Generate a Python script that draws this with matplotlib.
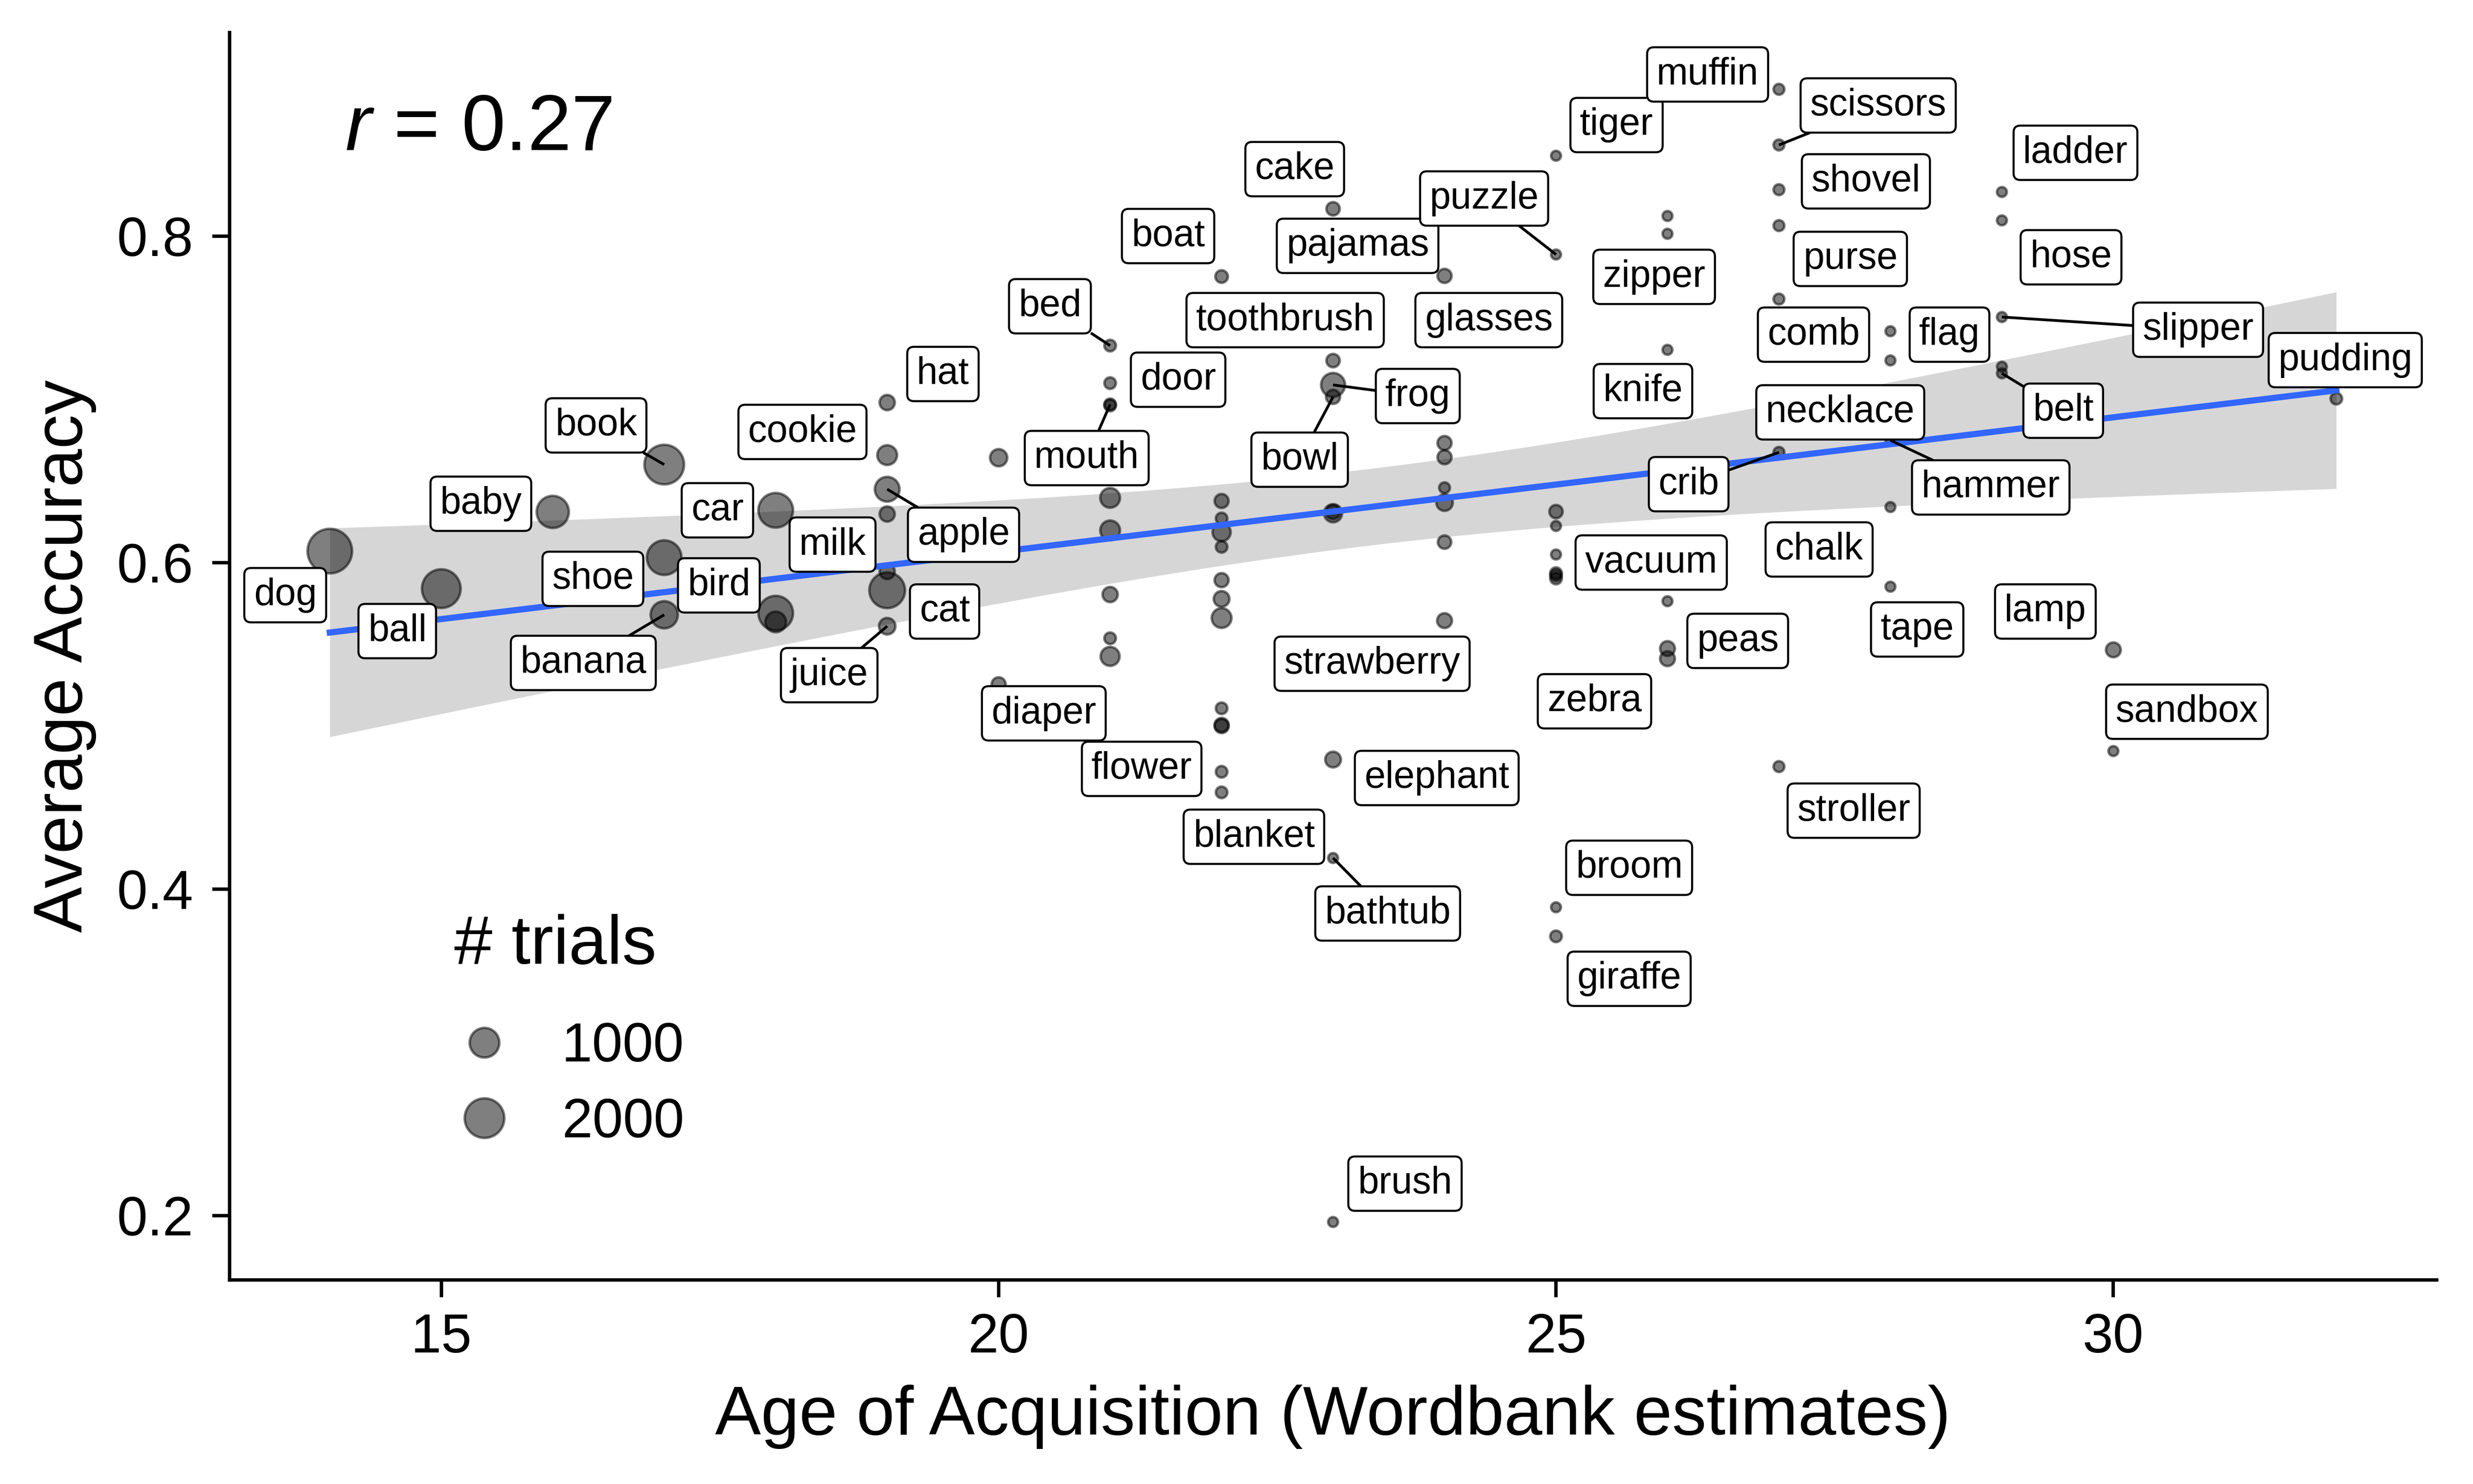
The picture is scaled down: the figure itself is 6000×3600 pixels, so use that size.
import numpy as np
import matplotlib
matplotlib.use("Agg")
import matplotlib.pyplot as plt
from matplotlib.lines import Line2D

plt.rcParams['font.family'] = ['Liberation Sans', 'DejaVu Sans']
plt.rcParams['mathtext.fontset'] = 'custom'
plt.rcParams['mathtext.it'] = 'Liberation Sans:italic'
plt.rcParams['mathtext.rm'] = 'Liberation Sans'

# one entry per word: age of acquisition (months), average accuracy, number of trials
aoa = [14, 15, 16, 17, 17, 17, 18, 18, 18,
       19, 19, 19, 19, 19, 19, 19, 20, 20,
       21, 21, 21, 21, 21, 21, 21, 21, 21,
       22, 22, 22, 22, 22, 22, 22, 22, 22, 22, 22, 22, 22,
       23, 23, 23, 23, 23, 23, 23, 23, 23,
       24, 24, 24, 24, 24, 24, 24,
       25, 25, 25, 25, 25, 25, 25, 25, 25, 25,
       26, 26, 26, 26, 26, 26,
       27, 27, 27, 27, 27, 27, 27,
       28, 28, 28, 28, 28,
       29, 29, 29, 29, 29,
       30, 30, 32]
accuracy = [0.607, 0.584, 0.631, 0.660, 0.603, 0.568, 0.632, 0.569, 0.5636,
            0.698, 0.6658, 0.6449, 0.6297, 0.5945, 0.583, 0.561, 0.6642, 0.5254,
            0.7329, 0.7099, 0.6969, 0.6962, 0.6396, 0.6197, 0.5804, 0.5536, 0.5425,
            0.7752, 0.6377, 0.627, 0.6186, 0.6096, 0.5892, 0.5777, 0.566, 0.5107,
            0.5005, 0.4998, 0.4718, 0.4592,
            0.8167, 0.7237, 0.7088, 0.7015, 0.6302, 0.6310, 0.4793, 0.419, 0.196,
            0.7756, 0.6732, 0.6645, 0.6458, 0.6367, 0.6125, 0.5644,
            0.8492, 0.7887, 0.6312, 0.6224, 0.6049, 0.5935, 0.5922, 0.5902, 0.3888, 0.371,
            0.8123, 0.8014, 0.7303, 0.5763, 0.5473, 0.5411,
            0.8899, 0.8558, 0.8284, 0.8064, 0.7614, 0.6675, 0.475,
            0.7417, 0.7238, 0.6749, 0.634, 0.5852,
            0.827, 0.8096, 0.7504, 0.72, 0.7159,
            0.5465, 0.4845, 0.7004]
trials = [2650, 1900, 1214, 2000, 1450, 815, 1450, 1450, 440,
          258, 400, 650, 258, 258, 1560, 290, 310, 236,
          206, 206, 206, 206, 400, 400, 258, 206, 370,
          215, 236, 206, 341, 206, 236, 270, 400, 206, 236, 236, 206, 206,
          225, 225, 604, 236, 341, 236, 270, 200, 200,
          236, 236, 236, 202, 290, 225, 250,
          200, 200, 225, 200, 200, 206, 206, 206, 200, 206,
          200, 200, 200, 200, 250, 250,
          202, 202, 202, 202, 202, 202, 202,
          200, 200, 200, 200, 200,
          200, 200, 200, 200, 200,
          250, 200, 206]

label_words = ['dog', 'ball', 'baby', 'book', 'shoe', 'banana', 'car', 'bird', 'milk',
               'cookie', 'juice', 'apple', 'cat', 'hat', 'bed', 'diaper', 'mouth', 'door',
               'boat', 'flower', 'toothbrush', 'cake', 'pajamas', 'blanket', 'strawberry',
               'bowl', 'frog', 'elephant', 'bathtub', 'brush', 'puzzle', 'glasses', 'tiger',
               'zebra', 'vacuum', 'broom', 'giraffe', 'zipper', 'knife', 'crib', 'peas',
               'muffin', 'scissors', 'shovel', 'purse', 'comb', 'necklace', 'chalk',
               'stroller', 'flag', 'hammer', 'tape', 'ladder', 'hose', 'slipper', 'belt',
               'lamp', 'sandbox', 'pudding']
label_point = [0, 1, 2, 3, 4, 5, 6, 7, 13,
               10, 15, 11, 14, 9, 18, 17, 20, 19,
               27, 38, 41, 40, 49, 39, 55,
               43, 42, 46, 47, 48, 57, 50, 56,
               63, 60, 64, 65, 67, 68, 77, 70,
               72, 73, 74, 75, 76, 80, 82,
               78, 79, 81, 83, 84, 85, 86, 88,
               89, 90, 91]

# where the repelled labels ended up (box centres, data units)
label_pos = [(13.60, 0.580), (14.605, 0.558), (15.355, 0.636), (16.388, 0.684),
             (16.36, 0.590), (16.274, 0.5385), (17.477, 0.632), (17.49, 0.586),
             (18.51, 0.611), (18.24, 0.680), (18.48, 0.531), (19.685, 0.617),
             (19.515, 0.570), (19.50, 0.7155), (20.46, 0.757), (20.405, 0.5076),
             (20.79, 0.664), (21.61, 0.712), (21.52, 0.800), (21.283, 0.4736),
             (22.57, 0.7485), (22.656, 0.841), (23.22, 0.794), (22.29, 0.432),
             (23.35, 0.538), (22.70, 0.663), (23.76, 0.702), (23.93, 0.468),
             (23.49, 0.385), (23.645, 0.2195), (24.355, 0.823), (24.397, 0.7485),
             (25.543, 0.868), (25.345, 0.515), (25.854, 0.600), (25.656, 0.413),
             (25.656, 0.345), (25.88, 0.775), (25.78, 0.705), (26.19, 0.648),
             (26.63, 0.552), (26.36, 0.899), (27.89, 0.880), (27.78, 0.8335),
             (27.64, 0.786), (27.31, 0.7396), (27.55, 0.692), (27.36, 0.608),
             (27.67, 0.448), (28.53, 0.7396), (28.90, 0.646), (28.24, 0.559),
             (29.66, 0.851), (29.62, 0.787), (30.76, 0.7426), (29.55, 0.693),
             (29.39, 0.570), (30.66, 0.5086), (32.08, 0.724)]
with_segment = {'book', 'banana', 'apple', 'juice', 'bed', 'mouth', 'bowl', 'frog',
                'bathtub', 'puzzle', 'scissors', 'crib', 'hammer', 'slipper', 'belt'}

DPI = 600


def marker_area(n):
    # radius in pixels, area-style scale like ggplot
    r_px = 14.9 + 0.851 * np.sqrt(np.maximum(np.asarray(n, float) - 200, 0))
    d_pt = 2 * (r_px - 3) * 72 / DPI
    return d_pt ** 2


x = np.array(aoa, float)
y = np.array(accuracy)
n = len(x)

# linear fit with 95% band
slope, intercept = np.polyfit(x, y, 1)
xs = np.linspace(x.min(), x.max(), 80)
yhat = intercept + slope * xs
resid = y - (intercept + slope * x)
s = np.sqrt(np.sum(resid ** 2) / (n - 2))
sxx = np.sum((x - x.mean()) ** 2)
se = s * np.sqrt(1 / n + (xs - x.mean()) ** 2 / sxx)
tcrit = 1.987

fig = plt.figure(figsize=(10, 6), dpi=DPI)
ax = fig.add_axes([0.0928, 0.1375, 0.8925, 0.8406])

ax.fill_between(xs, yhat - tcrit * se, yhat + tcrit * se, color='#999999', alpha=0.4,
                linewidth=0, zorder=1)
ax.scatter(x, y, s=marker_area(trials), facecolor=(0, 0, 0, 0.5), edgecolor=(0, 0, 0, 0.5),
           linewidth=0.75, zorder=2)
ax.plot(xs, yhat, color='#3366FF', linewidth=1.8, zorder=3)

texts = []
for word, (lx, ly) in zip(label_words, label_pos):
    t = ax.text(lx, ly, word, ha='center', va='center', fontsize=11, zorder=6,
                bbox=dict(boxstyle='round,pad=0.25,rounding_size=0.18', fc='white',
                          ec='black', lw=0.6))
    texts.append(t)

ax.text(14.135, 0.8526, r'$\mathit{r}$ = 0.27', fontsize=23, ha='left', va='baseline')

ax.set_xlim(13.1, 32.9)
ax.set_ylim(0.1605, 0.9247)
ax.set_xticks([15, 20, 25, 30])
ax.set_yticks([0.2, 0.4, 0.6, 0.8])
ax.set_yticklabels(['0.2', '0.4', '0.6', '0.8'])
ax.spines['top'].set_visible(False)
ax.spines['right'].set_visible(False)
for sp in ('left', 'bottom'):
    ax.spines[sp].set_linewidth(1.0)
ax.tick_params(axis='both', direction='out', length=5, width=1.0, labelsize=16,
               colors='black')
ax.tick_params(axis='x', pad=4.5)
ax.tick_params(axis='y', pad=5.5)
ax.set_xlabel('Age of Acquisition (Wordbank estimates)', fontsize=20, labelpad=6)
ax.set_ylabel('Average Accuracy', fontsize=20, labelpad=6)

handles = [Line2D([], [], linestyle='none', marker='o', markersize=np.sqrt(marker_area(v)),
                  markerfacecolor=(0, 0, 0, 0.5), markeredgecolor=(0, 0, 0, 0.5),
                  markeredgewidth=0.75) for v in (1000, 2000)]
leg = ax.legend(handles, ['1000', '2000'], title='# trials', loc='upper left',
                bbox_to_anchor=(0.1018, 0.2933), frameon=False, fontsize=16,
                title_fontsize=20, borderpad=0, borderaxespad=0, labelspacing=0.44,
                handlelength=1.1, handletextpad=0.86, alignment='left')
# more room between the legend title and its keys
leg._legend_box.sep = 12.6

# connector segments from point to the edge of its label box
fig.canvas.draw()
renderer = fig.canvas.get_renderer()
inv = ax.transData.inverted()
for word, idx, t in zip(label_words, label_point, texts):
    if word not in with_segment:
        continue
    bb = t.get_bbox_patch().get_window_extent(renderer)
    cx, cy = (bb.x0 + bb.x1) / 2, (bb.y0 + bb.y1) / 2
    px, py = ax.transData.transform((x[idx], y[idx]))
    dx, dy = px - cx, py - cy
    hw, hh = bb.width / 2, bb.height / 2
    f = min(hw / abs(dx) if dx else np.inf, hh / abs(dy) if dy else np.inf)
    ex, ey = cx + dx * f, cy + dy * f
    (dxe, dye), (dxp, dyp) = inv.transform((ex, ey)), inv.transform((px, py))
    ax.plot([dxp, dxe], [dyp, dye], color='black', linewidth=0.8, zorder=5,
            solid_capstyle='butt')

fig.savefig('out.png', dpi=DPI)
